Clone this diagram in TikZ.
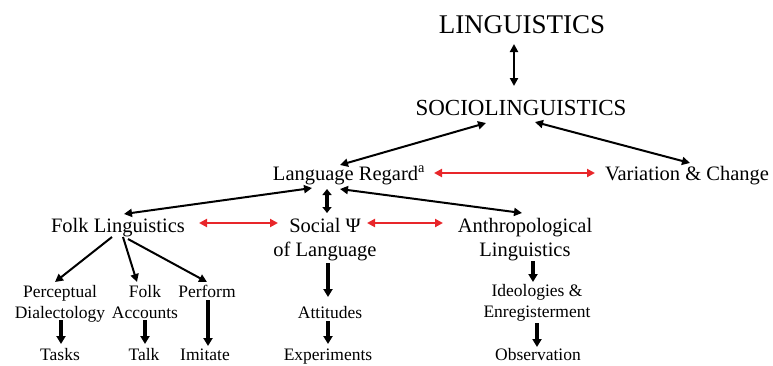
\documentclass[tikz,border=0pt]{standalone}
\usepackage{fontspec}
\setmainfont{Liberation Serif}
\usetikzlibrary{arrows.meta}
\definecolor{linkred}{HTML}{E8262A}
\begin{document}
\begin{tikzpicture}[
        x=1pt, y=-1pt,
        top/.style={font=\fontsize{27}{30}\selectfont, inner sep=1pt, anchor=base},
        field/.style={font=\fontsize{23}{26}\selectfont, inner sep=1pt, anchor=base},
        area/.style={font=\fontsize{20.5}{24}\selectfont, inner sep=1pt, align=center, anchor=base},
        leaf/.style={font=\fontsize{17.5}{21}\selectfont, inner sep=1pt, align=center, anchor=base},
        link/.style={line width=2pt, {Triangle[length=8pt,width=8pt]}-{Triangle[length=8pt,width=8pt]}},
        cross/.style={linkred, line width=2.5pt, {Triangle[length=8pt,width=8pt]}-{Triangle[length=8pt,width=8pt]}},
        branch/.style={line width=2pt, -{Triangle[length=8pt,width=8pt]}},
        down/.style={line width=3.5pt, -{Triangle[length=8pt,width=9pt]}}
    ]
    \useasboundingbox (0,0) rectangle (773,365);

    % levels (base = last line)
    \node[top] (ling) at (522,33) {LINGUISTICS};
    \node[field] (socio) at (521,115) {SOCIOLINGUISTICS};
    \node[area] (regard) at (349,180) {Language Regard\textsuperscript{a}};
    \node[area] (varch) at (687,180) {Variation \& Change};
    \node[area] (folk) at (118,232) {Folk Linguistics};
    \node[area] (socpsy) at (325,256) {Social Ψ\\of Language};
    \node[area] (anthro) at (525,256) {Anthropological\\Linguistics};

    % leaves
    \node[leaf] (percep) at (60,318) {Perceptual\\Dialectology};
    \node[leaf] (faccts) at (145,318) {Folk\\Accounts};
    \node[leaf] (perform) at (207,297) {Perform};
    \node[leaf] (attit) at (330,318) {Attitudes};
    \node[leaf] (ideol) at (537,317) {Ideologies \&\\Enregisterment};
    \node[leaf] (tasks) at (60,360) {Tasks};
    \node[leaf] (talk) at (144,360) {Talk};
    \node[leaf] (imit) at (205,360) {Imitate};
    \node[leaf] (exper) at (328,360) {Experiments};
    \node[leaf] (observ) at (538,360) {Observation};

    % connectors
    \draw[link] ([shift={(-8,11)}]ling.base) -- ([shift={(-7,-29)}]socio.base);
    \draw[link] ([shift={(-35,8)}]socio.base) -- ([shift={(-9,-15)}]regard.base);
    \draw[link] ([shift={(14,7)}]socio.base) -- ([shift={(3,-17)}]varch.base);
    \draw[cross] ([shift={(85,-7)}]regard.base) -- ([shift={(-92,-7)}]varch.base);
    \draw[link] ([shift={(-37,8)}]regard.base) -- ([shift={(6,-18)}]folk.base);
    \draw[link] ([shift={(-9,9)}]regard.base) -- ([shift={(-3,-43)}]anthro.base);
    \draw[down, {Triangle[length=6pt,width=9pt]}-{Triangle[length=6pt,width=9pt]}] ([shift={(-22,9)}]regard.base) -- ([shift={(2,-43)}]socpsy.base);
    \draw[cross] ([shift={(81,-9)}]folk.base) -- ([shift={(-47,-33)}]socpsy.base);
    \draw[cross] ([shift={(42,-33)}]socpsy.base) -- ([shift={(-82,-33)}]anthro.base);
    \draw[branch] ([shift={(-6,5)}]folk.base) -- ([shift={(-5,-36)}]percep.base);
    \draw[branch] ([shift={(5,5)}]folk.base) -- ([shift={(-8,-36)}]faccts.base);
    \draw[branch] ([shift={(10,7)}]folk.base) -- ([shift={(0,-15)}]perform.base);
    \draw[down] ([shift={(1,2)}]percep.base) -- ([shift={(1,-16)}]tasks.base);
    \draw[down] ([shift={(0,2)}]faccts.base) -- ([shift={(1,-16)}]talk.base);
    \draw[down, line width=4.5pt] ([shift={(1,3)}]perform.base) -- ([shift={(3,-14)}]imit.base);
    \draw[down] ([shift={(3,7)}]socpsy.base) -- ([shift={(-2,-21)}]attit.base);
    \draw[down] ([shift={(-2,3)}]attit.base) -- ([shift={(0,-16)}]exper.base);
    \draw[down] ([shift={(8,5)}]anthro.base) -- ([shift={(-4,-35)}]ideol.base);
    \draw[down] ([shift={(0,6)}]ideol.base) -- ([shift={(-1,-13)}]observ.base);
\end{tikzpicture}
\end{document}
